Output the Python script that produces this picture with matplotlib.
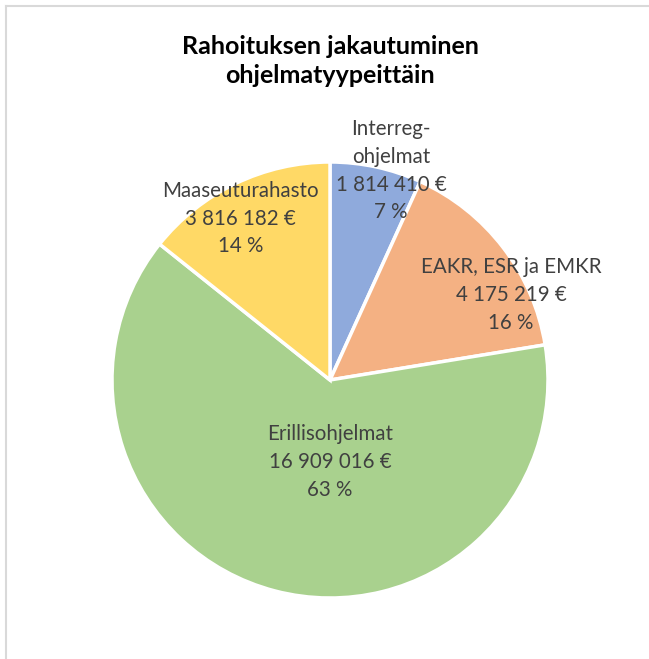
import matplotlib
matplotlib.use("Agg")
import matplotlib.pyplot as plt
from matplotlib.lines import Line2D

# data
labels = ["Interreg-\nohjelmat", "EAKR, ESR ja EMKR", "Erillisohjelmat", "Maaseuturahasto"]
values = [1814410, 4175219, 16909016, 3816182]
colors = ["#8FAADC", "#F4B183", "#A9D18E", "#FFD966"]

# label positions (pie radius = 1)
label_pos = [(0.28, 0.96), (0.83, 0.39), (0.0, -0.376), (-0.41, 0.74)]

plt.rcParams["font.family"] = ["Lato", "DejaVu Sans"]

fig = plt.figure(figsize=(6.49, 6.59), dpi=100)
W, H = 649, 659
cx, cy, r = 330, 380, 218
ax = fig.add_axes([(cx - r) / W, (H - cy - r) / H, 2 * r / W, 2 * r / H])

ax.pie(values, colors=colors, startangle=90, counterclock=False, radius=1,
       wedgeprops=dict(edgecolor="white", linewidth=2.5))
ax.set_xlim(-1, 1)
ax.set_ylim(-1, 1)
ax.set_aspect("equal")
ax.axis("off")

total = sum(values)
for lab, v, (x, y) in zip(labels, values, label_pos):
    txt = "{}\n{} €\n{} %".format(lab, f"{v:,}".replace(",", " "), round(v / total * 100))
    ax.text(x, y, txt, ha="center", va="center", fontsize=14.8, color="#404040",
            linespacing=1.48)

fig.text(cx / W, 1 - 61 / H, "Rahoituksen jakautuminen\nohjelmatyypeittäin",
         ha="center", va="center", fontsize=18, fontweight="bold", color="black",
         linespacing=1.32)

# chart border (left and top visible)
fig.add_artist(Line2D([5.5 / W, 5.5 / W], [0, 1 - 6 / H], transform=fig.transFigure,
                      color="#D9D9D9", linewidth=1.5))
fig.add_artist(Line2D([5.5 / W, 1], [1 - 6 / H, 1 - 6 / H], transform=fig.transFigure,
                      color="#D9D9D9", linewidth=1.5))

fig.savefig("out.png", dpi=100)
